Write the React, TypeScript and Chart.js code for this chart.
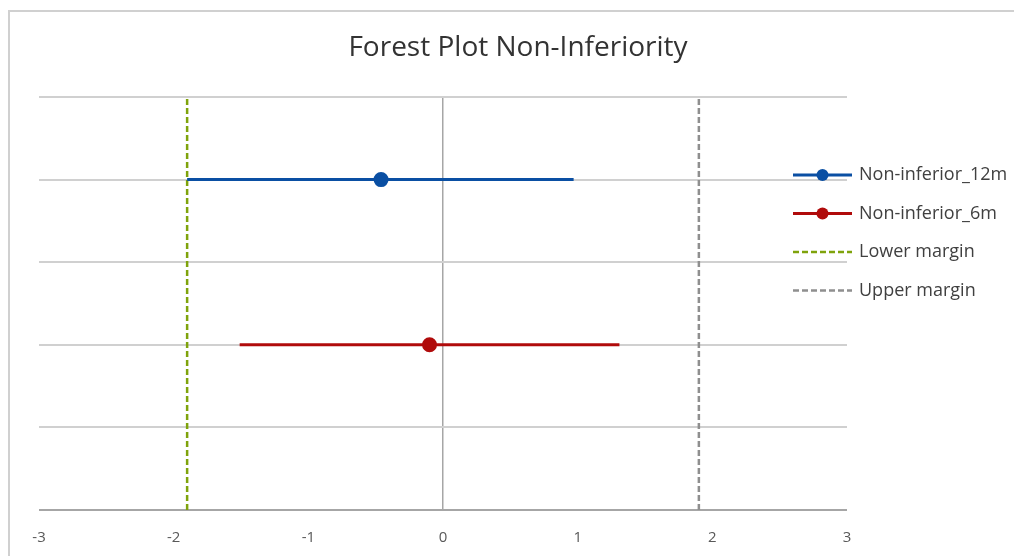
import React, { useEffect, useRef } from "react";
import { Chart, registerables } from "chart.js";

Chart.register(...registerables);

const titleText = "Forest Plot Non-Inferiority";
const xTicks = [-3, -2, -1, 0, 1, 2, 3];
const seriesNames = ["Non-inferior_12m", "Non-inferior_6m", "Lower margin", "Upper margin"];
const seriesColors = ["#0a4fa3", "#b00b0b", "#7fa30c", "#8f8f8f"];
// [lower CI, estimate, upper CI]
const ci12m = [-1.9, -0.46, 0.97];
const ci6m = [-1.51, -0.1, 1.31];
const row12m = 2;
const row6m = 1;
const lowerMargin = -1.9;
const upperMargin = 1.9;
const yRange = [0, 2.5];

const FONT = "'Open Sans', Lato, sans-serif";

const framePlugin = {
  id: "frame",
  beforeDraw(chart: any) {
    const ctx = chart.ctx;
    ctx.save();
    ctx.fillStyle = "#ffffff";
    ctx.fillRect(0, 0, chart.width, chart.height);
    ctx.strokeStyle = "#d0d0d0";
    ctx.lineWidth = 2;
    ctx.strokeRect(9, 11, chart.width + 20, chart.height + 20);
    ctx.fillStyle = "#333333";
    ctx.font = `28px ${FONT}`;
    ctx.textAlign = "center";
    ctx.textBaseline = "middle";
    ctx.fillText(titleText, 518, 48);
    ctx.restore();
  },
};

const legendPlugin = {
  id: "customLegend",
  afterDraw(chart: any) {
    const ctx = chart.ctx;
    const x0 = 793;
    const x1 = 852;
    const startY = 175;
    const step = 38.5;
    ctx.save();
    chart.data.datasets.forEach((ds: any, i: number) => {
      const y = startY + i * step;
      ctx.strokeStyle = ds.borderColor;
      ctx.lineWidth = ds.borderWidth;
      ctx.setLineDash(ds.borderDash || []);
      ctx.beginPath();
      ctx.moveTo(x0, y);
      ctx.lineTo(x1, y);
      ctx.stroke();
      ctx.setLineDash([]);
      if (i < 2) {
        ctx.fillStyle = ds.borderColor;
        ctx.beginPath();
        ctx.arc((x0 + x1) / 2, y, 6, 0, Math.PI * 2);
        ctx.fill();
      }
      ctx.fillStyle = "#404040";
      ctx.font = `18px ${FONT}`;
      ctx.textBaseline = "middle";
      ctx.textAlign = "left";
      ctx.fillText(ds.label, 859, y);
    });
    ctx.restore();
  },
};

export default function App() {
  const ref = useRef<HTMLCanvasElement>(null);
  useEffect(() => {
    if (!ref.current) return;
    const ciData = (ci: number[], row: number) => ci.map((v) => ({ x: v, y: row }));
    const chart = new Chart(ref.current, {
      type: "scatter",
      data: {
        datasets: [
          {
            label: seriesNames[0],
            data: ciData(ci12m, row12m),
            showLine: true,
            borderColor: seriesColors[0],
            backgroundColor: seriesColors[0],
            borderWidth: 3,
            pointRadius: [0, 6, 0],
            pointHoverRadius: [0, 6, 0],
          },
          {
            label: seriesNames[1],
            data: ciData(ci6m, row6m),
            showLine: true,
            borderColor: seriesColors[1],
            backgroundColor: seriesColors[1],
            borderWidth: 3,
            pointRadius: [0, 6, 0],
            pointHoverRadius: [0, 6, 0],
          },
          {
            label: seriesNames[2],
            data: yRange.map((y) => ({ x: lowerMargin, y })),
            showLine: true,
            borderColor: seriesColors[2],
            backgroundColor: seriesColors[2],
            borderWidth: 2.5,
            borderDash: [6, 3],
            pointRadius: 0,
          },
          {
            label: seriesNames[3],
            data: yRange.map((y) => ({ x: upperMargin, y })),
            showLine: true,
            borderColor: seriesColors[3],
            backgroundColor: seriesColors[3],
            borderWidth: 2.5,
            borderDash: [6, 3],
            pointRadius: 0,
          },
        ],
      },
      options: {
        animation: false,
        responsive: false,
        maintainAspectRatio: false,
        layout: { padding: { left: 39, right: 1014 - 847, top: 97, bottom: 0 } },
        plugins: {
          legend: { display: false },
          tooltip: { enabled: false },
          title: { display: false },
        },
        scales: {
          x: {
            type: "linear",
            min: xTicks[0],
            max: xTicks[xTicks.length - 1],
            afterBuildTicks: (axis: any) => {
              axis.ticks = xTicks.map((v) => ({ value: v }));
            },
            ticks: {
              color: "#595959",
              font: { family: FONT, size: 15 },
              padding: 19,
              maxRotation: 0,
              autoSkip: false,
            },
            grid: {
              drawTicks: false,
              color: (c: any) => (c.tick && c.tick.value === 0 ? "#a6a6a6" : "rgba(0,0,0,0)"),
              lineWidth: 1.5,
            },
            border: { display: false },
            afterFit: (axis: any) => {
              axis.height = 46;
            },
          },
          y: {
            type: "linear",
            min: yRange[0],
            max: yRange[1],
            ticks: { display: false, stepSize: 0.5 },
            grid: {
              drawTicks: false,
              color: (c: any) => (c.tick && c.tick.value === 0 ? "#a6a6a6" : "#d0d0d0"),
              lineWidth: 2,
            },
            border: { display: false },
            afterFit: (axis: any) => {
              axis.width = 0;
            },
          },
        },
      },
      plugins: [framePlugin, legendPlugin],
    });
    return () => chart.destroy();
  }, []);
  return (
    <div style={{ position: "absolute", left: 0, top: 0, width: 1014, height: 556 }}>
      <canvas ref={ref} width={1014} height={556} style={{ display: "block", width: 1014, height: 556 }} />
    </div>
  );
}
